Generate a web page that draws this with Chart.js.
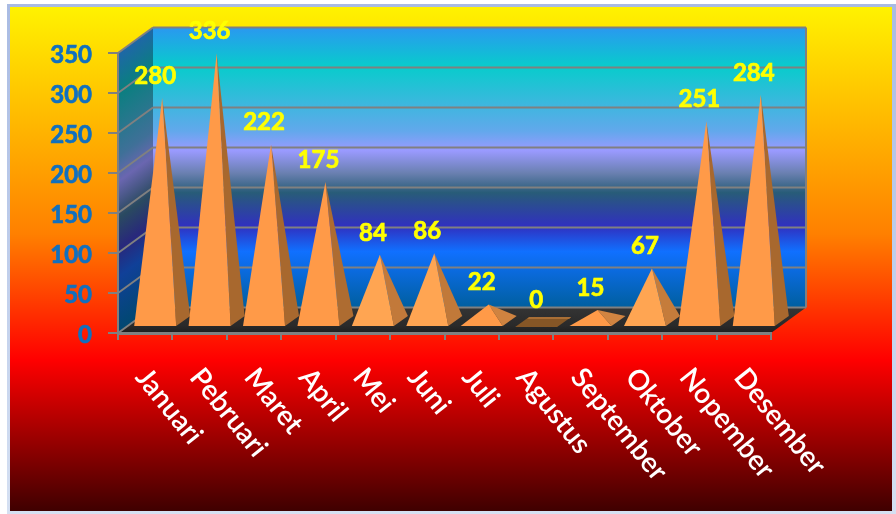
<!DOCTYPE html>
<html>
<head>
<meta charset="utf-8">
<script src="https://cdn.jsdelivr.net/npm/chart.js@4"></script>
<style>
  html, body { margin: 0; padding: 0; background: #fff; }
  canvas { display: block; }
</style>
</head>
<body>
<canvas id="salesChart" width="896" height="514"></canvas>
<script>
const months = ["Januari", "Pebruari", "Maret", "April", "Mei", "Juni", "Juli", "Agustus", "September", "Oktober", "Nopember", "Desember"];
const values = [280, 336, 222, 175, 84, 86, 22, 0, 15, 67, 251, 284];
const yTicks = [0, 50, 100, 150, 200, 250, 300, 350];

// depth of the 3D box, in pixels
const DEPTH_X = 35;
const DEPTH_Y = 25.5;
const FONT = "Lato, 'Open Sans', sans-serif";

const wallStops = [
  [0, "#2a98f0"], [0.14, "#08cccc"], [0.37, "#62a8ec"], [0.44, "#9a9aff"],
  [0.52, "#6a80b0"], [0.59, "#285c78"], [0.71, "#3030c0"], [0.8, "#1070ff"], [1, "#005f9f"]
];
const sideWallStops = [
  [0, "#1f66a8"], [0.14, "#0a7f80"], [0.37, "#3f7098"], [0.46, "#6a66b0"],
  [0.59, "#2a4a60"], [0.7, "#28287c"], [0.8, "#104098"], [1, "#004870"]
];

function gradient(ctx, x0, y0, x1, y1, stops) {
  const g = ctx.createLinearGradient(x0, y0, x1, y1);
  stops.forEach(([at, color]) => g.addColorStop(at, color));
  return g;
}

function poly(ctx, points, fill) {
  ctx.beginPath();
  points.forEach(([x, y], i) => (i ? ctx.lineTo(x, y) : ctx.moveTo(x, y)));
  ctx.closePath();
  ctx.fillStyle = fill;
  ctx.fill();
}

function line(ctx, x0, y0, x1, y1) {
  ctx.beginPath();
  ctx.moveTo(x0, y0);
  ctx.lineTo(x1, y1);
  ctx.stroke();
}

// page frame, box walls, floor and gridlines
const box3d = {
  id: "box3d",
  beforeDraw(chart) {
    const { ctx, scales: { x, y } } = chart;
    const left = x.left, right = x.right;
    const top = y.getPixelForValue(350), bottom = y.getPixelForValue(0);

    ctx.save();
    ctx.fillStyle = "#fff";
    ctx.fillRect(0, 0, 896, 514);
    ctx.fillStyle = gradient(ctx, 0, 4, 0, 514, [[0, "#a9bbe3"], [1, "#d5e0f2"]]);
    ctx.fillRect(7, 4, 889, 510);
    ctx.fillStyle = gradient(ctx, 0, 7, 0, 511, [
      [0, "#fff200"], [0.45, "#ff8000"], [0.7, "#ff0000"], [1, "#3f0000"]
    ]);
    ctx.fillRect(10, 7, 882, 504);

    // back wall
    ctx.fillStyle = gradient(ctx, 0, top - DEPTH_Y, 0, bottom - DEPTH_Y, wallStops);
    ctx.fillRect(left + DEPTH_X, top - DEPTH_Y, right - left, bottom - top);

    // left wall, colour bands follow the receding edge
    const h = bottom - top;
    poly(ctx, [[left, top], [left + DEPTH_X, top - DEPTH_Y], [left + DEPTH_X, bottom - DEPTH_Y], [left, bottom]],
      gradient(ctx, left, top, left + h * 0.479, top + h * 0.645, sideWallStops));

    // floor
    poly(ctx, [[left, bottom], [right, bottom], [right + DEPTH_X, bottom - DEPTH_Y], [left + DEPTH_X, bottom - DEPTH_Y]],
      gradient(ctx, 0, bottom - DEPTH_Y, 0, bottom, [[0, "#343434"], [0.7, "#2a2a2a"], [1, "#1e1e1e"]]));

    ctx.strokeStyle = "#808080";
    ctx.lineWidth = 2;
    yTicks.forEach((tick) => {
      const py = y.getPixelForValue(tick);
      line(ctx, left, py, left + DEPTH_X, py - DEPTH_Y);
      line(ctx, left + DEPTH_X, py - DEPTH_Y, right + DEPTH_X, py - DEPTH_Y);
    });
    line(ctx, right + DEPTH_X, top - DEPTH_Y, right + DEPTH_X, bottom - DEPTH_Y);
    ctx.restore();
  }
};

// the bars are laid out by Chart.js, each one is painted as a pyramid
const pyramids = {
  id: "pyramids",
  afterDatasetsDraw(chart) {
    const { ctx, scales: { x } } = chart;
    const bars = chart.getDatasetMeta(0).data;
    ctx.save();
    bars.forEach((bar, i) => {
      const half = bar.width / 2;
      const cx = bar.x + 17;
      const cy = bar.base - 11;
      const fl = [cx - half - 7, cy + 5];
      const fr = [cx + half - 7, cy + 5];
      const br = [cx + half + 7, cy - 5];
      const bl = [cx - half + 7, cy - 5];
      const apex = [cx, bar.y - 11];
      if (values[i] === 0) {
        poly(ctx, [fl, fr, br, bl], "#855626");
        poly(ctx, [[bl[0] - 2, bl[1] + 2], [br[0] - 2, br[1] + 2], br, bl], "#a96f36");
      } else {
        // short pyramids catch more light on the side face
        const t = Math.min(values[i] / 200, 1);
        const r = Math.round(212 - 44 * t), g = Math.round(134 - 30 * t), b = Math.round(66 - 20 * t);
        poly(ctx, [fr, br, apex], `rgb(${r},${g},${b})`);
        poly(ctx, [fl, fr, apex], values[i] < 100 && values[i] > 30 ? "#ffa552" : "#ff9a48");
      }
      ctx.fillStyle = "#ffff00";
      ctx.strokeStyle = "#ffff00";
      ctx.lineWidth = 0.7;
      ctx.font = "700 24px " + FONT;
      ctx.textAlign = "center";
      ctx.textBaseline = "middle";
      ctx.fillText(String(values[i]), apex[0] - 7, apex[1] - 22);
      ctx.strokeText(String(values[i]), apex[0] - 7, apex[1] - 22);
    });

    // month names run downward from each category
    ctx.fillStyle = "#ffffff";
    ctx.font = "600 28px " + FONT;
    ctx.textAlign = "left";
    ctx.textBaseline = "middle";
    x.getLabels().forEach((label, i) => {
      ctx.save();
      ctx.translate(x.getPixelForTick(i) - 4, 372);
      ctx.rotate(51 * Math.PI / 180);
      ctx.fillText(label, 0, 0);
      ctx.restore();
    });
    ctx.restore();
  }
};

new Chart(document.getElementById("salesChart"), {
  type: "bar",
  data: {
    labels: months,
    datasets: [{
      data: values,
      backgroundColor: "rgba(0,0,0,0)",
      categoryPercentage: 0.772,
      barPercentage: 1
    }]
  },
  options: {
    responsive: false,
    animation: false,
    layout: { padding: { top: 53, right: 125, left: 0, bottom: 0 } },
    plugins: { legend: { display: false }, tooltip: { enabled: false } },
    scales: {
      x: {
        afterFit: (scale) => { scale.height = 181; },
        border: { color: "#808080", width: 3 },
        grid: { drawOnChartArea: false, color: "#808080", lineWidth: 2, tickLength: 7, offset: true },
        ticks: { display: false }
      },
      y: {
        min: 0,
        max: 350,
        afterFit: (scale) => { scale.width = 118; },
        afterBuildTicks: (scale) => { scale.ticks = yTicks.map((value) => ({ value })); },
        border: { color: "#808080", width: 2 },
        grid: { drawOnChartArea: false, color: "#808080", lineWidth: 2, tickLength: 10 },
        ticks: {
          color: "#1070c0",
          padding: 16,
          labelOffset: 2,
          textStrokeColor: "#1070c0",
          textStrokeWidth: 0.7,
          font: { family: FONT, size: 24, weight: "700" }
        }
      }
    }
  },
  plugins: [box3d, pyramids]
});
</script>
</body>
</html>
